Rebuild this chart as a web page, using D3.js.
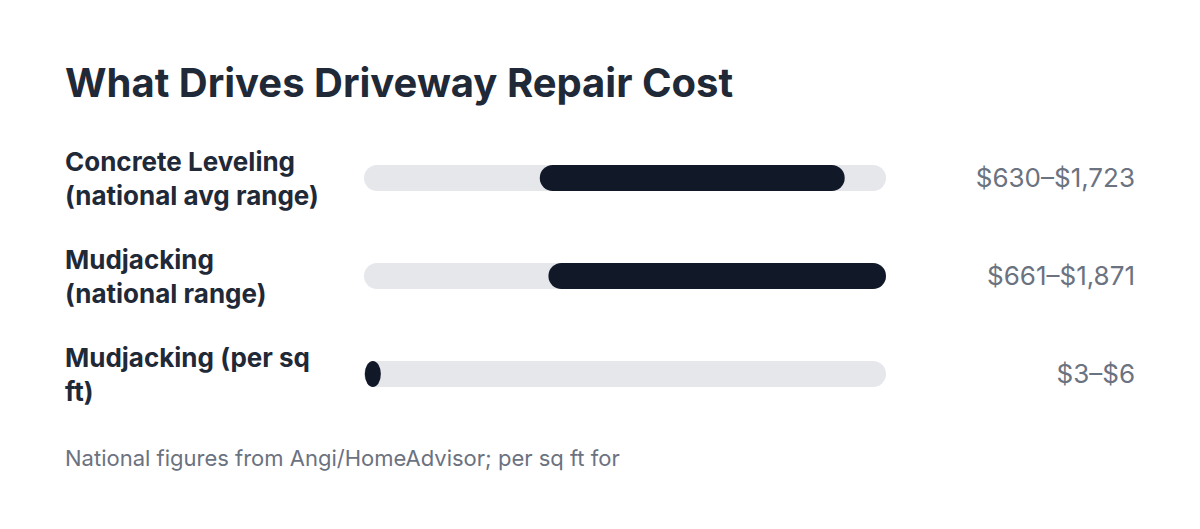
<!DOCTYPE html>
<html>
<head>
<meta charset="utf-8">
<script src="https://cdn.jsdelivr.net/npm/d3@7"></script>
<style>
  html, body { margin: 0; padding: 0; background: #fff; }
  svg { display: block; font-family: Inter, 'Noto Sans', sans-serif; }
</style>
</head>
<body>
<svg id="chart" width="1200" height="529"></svg>
<script>
'use strict';
const TITLE = 'What Drives Driveway Repair Cost';
const CATEGORIES = [
  'Concrete Leveling (national avg range)',
  'Mudjacking (national range)',
  'Mudjacking (per sq ft)',
];
const LOW = [630, 661, 3];
const HIGH = [1723, 1871, 6];
const VALUE_LABELS = ['$630–$1,723', '$661–$1,871', '$3–$6'];
const FOOTNOTE = 'National figures from Angi/HomeAdvisor; per sq ft for';

const TRACK_COLOR = '#e5e7eb';
const BAR_COLOR = '#111827';
const TEXT_COLOR = '#1f2937';
const MUTED = '#6b7280';

drawChart();

function wrap(textSel, maxWidth, lineHeight) {
  textSel.each(function () {
    let text = d3.select(this);
    let words = text.text().split(/\s+/);
    text.text(null);
    let lines = [];
    let line = [];
    let tspan = text.append('tspan');
    words.forEach((w) => {
      line.push(w);
      tspan.text(line.join(' '));
      if (tspan.node().getComputedTextLength() > maxWidth && line.length > 1) {
        line.pop();
        lines.push(line.join(' '));
        line = [w];
        tspan.text(w);
      }
    });
    lines.push(line.join(' '));
    text.text(null);
    let offset = -((lines.length - 1) * lineHeight) / 2;
    lines.forEach((l, i) => {
      text
        .append('tspan')
        .attr('x', text.attr('x'))
        .attr('y', +text.attr('y') + offset + i * lineHeight)
        .text(l);
    });
  });
}

function drawChart() {
  let svg = d3.select('#chart');
  let data = CATEGORIES.map((c, i) => ({
    name: c,
    low: LOW[i],
    high: HIGH[i],
    label: VALUE_LABELS[i],
  }));

  let barH = 26;
  let minW = 16;

  let x = d3
    .scaleLinear()
    .domain([0, d3.max(HIGH)])
    .range([364, 886]);

  let y = d3
    .scaleBand()
    .domain(CATEGORIES)
    .range([129, 423])
    .paddingInner(0);

  // title
  svg
    .append('text')
    .attr('x', 65)
    .attr('y', 97)
    .attr('fill', TEXT_COLOR)
    .attr('font-size', 40)
    .attr('font-weight', 700)
    .text(TITLE);

  let rows = svg
    .append('g')
    .selectAll('g')
    .data(data)
    .enter()
    .append('g')
    .attr('transform', (d) => `translate(0,${y(d.name) + y.bandwidth() / 2})`);

  // category labels
  rows
    .append('text')
    .attr('x', 65)
    .attr('y', 10)
    .attr('fill', TEXT_COLOR)
    .attr('font-size', 26)
    .attr('font-weight', 700)
    .text((d) => d.name)
    .call(wrap, 255, 34);

  // background track
  rows
    .append('rect')
    .attr('x', x.range()[0])
    .attr('y', -barH / 2)
    .attr('width', x.range()[1] - x.range()[0])
    .attr('height', barH)
    .attr('rx', barH / 2)
    .attr('fill', TRACK_COLOR);

  // range bar
  rows
    .append('rect')
    .attr('x', (d) => x(d.low))
    .attr('y', -barH / 2)
    .attr('width', (d) => Math.max(minW, x(d.high) - x(d.low)))
    .attr('height', barH)
    .attr('rx', (d) => Math.min(barH / 2, Math.max(minW, x(d.high) - x(d.low)) / 2))
    .attr('ry', barH / 2)
    .attr('fill', BAR_COLOR);

  // value labels
  rows
    .append('text')
    .attr('x', 1135)
    .attr('y', 0)
    .attr('dy', '0.35em')
    .attr('text-anchor', 'end')
    .attr('fill', MUTED)
    .attr('font-size', 26)
    .text((d) => d.label);

  // footnote
  svg
    .append('text')
    .attr('x', 65)
    .attr('y', 466)
    .attr('fill', MUTED)
    .attr('font-size', 22)
    .text(FOOTNOTE);
}
</script>
</body>
</html>
